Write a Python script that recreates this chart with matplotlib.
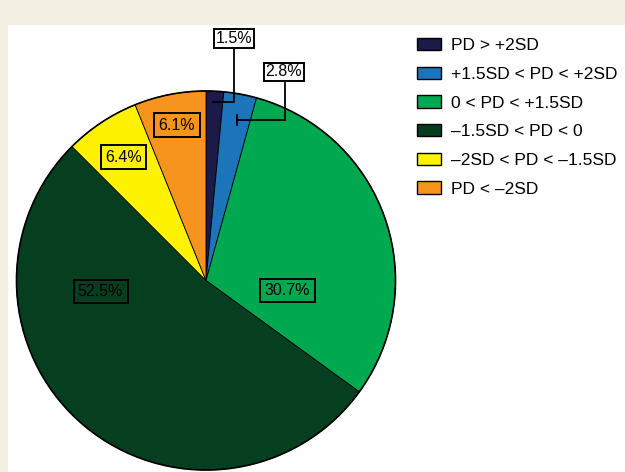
import matplotlib
matplotlib.use("Agg")
import matplotlib.pyplot as plt
from matplotlib.patches import Rectangle

categories = ["PD > +2SD", "+1.5SD < PD < +2SD", "0 < PD < +1.5SD",
              "\u20131.5SD < PD < 0", "\u20132SD < PD < \u20131.5SD", "PD < \u20132SD"]
values = [1.5, 2.8, 30.7, 52.5, 6.4, 6.1]
colors = ["#1b1a48", "#1c74bb", "#00a84f", "#063f20", "#fff200", "#f7941d"]

W, H = 625, 472
plt.rcParams['font.family'] = ['Liberation Sans', 'DejaVu Sans']
fig = plt.figure(figsize=(W / 100, H / 100), dpi=100, facecolor="#f3efe2")
ax = fig.add_axes([0, 0, 1, 1])
ax.add_patch(Rectangle((8, 0), W, H - 25, facecolor="white", edgecolor="none", zorder=-5))

cx, cy, r = 206, H - 280.5, 189.5
wedges, _ = ax.pie(values, colors=colors, startangle=90, counterclock=False,
                   center=(cx, cy), radius=r, frame=True,
                   wedgeprops=dict(edgecolor="black", linewidth=0.6))
ax.set_xlim(0, W)
ax.set_ylim(0, H)
ax.set_aspect("equal")
ax.axis("off")
# outer ring
circle = plt.Circle((cx, cy), r, fill=False, edgecolor="black", linewidth=1.2, zorder=5)
ax.add_patch(circle)

# label positions (pixel coordinates, y from top)
label_pos = [(234, 38.5), (284, 72), (287.5, 290.5), (100.5, 291.5), (123.5, 157), (177, 125)]
for v, (x, y), fc in zip(values, label_pos, colors):
    small = v < 5
    ax.text(x, H - y, f"{v}%", ha="center", va="center", fontsize=11.5, color="black",
            zorder=7,
            bbox=dict(boxstyle="square,pad=%s" % (0.12 if small else 0.27),
                      facecolor=("white" if small else fc),
                      edgecolor="black", linewidth=1.4))

# leader lines
ax.plot([234, 234, 213], [H - 48, H - 102, H - 102], color="black", lw=1.3, zorder=6,
        solid_joinstyle="miter")
ax.plot([285, 285, 237], [H - 83, H - 120, H - 120], color="black", lw=1.3, zorder=6,
        solid_joinstyle="miter")
ax.plot([237, 237], [H - 115, H - 125], color="black", lw=1.3, zorder=6)

leg = ax.legend(wedges, categories, loc="upper left", bbox_to_anchor=(417 / W, 1 - 38 / H),
                frameon=False, fontsize=12.5, handlelength=1.38, handleheight=0.7,
                handletextpad=0.57, labelspacing=0.78, borderpad=0, borderaxespad=0)
for h in leg.legend_handles:
    h.set_linewidth(1.0)

fig.savefig("out.png", dpi=100, facecolor=fig.get_facecolor())
